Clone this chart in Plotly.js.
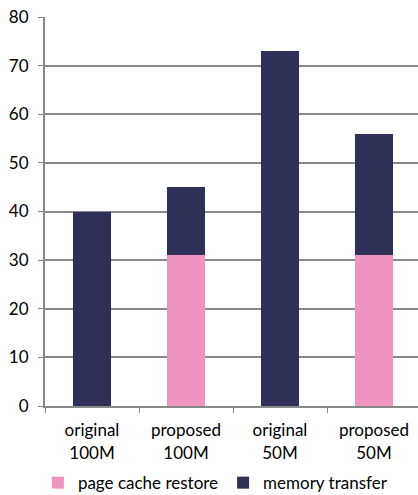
<!DOCTYPE html>
<html><head><meta charset="utf-8">
<script src="https://cdn.plot.ly/plotly-3.0.1.min.js"></script>
<style>html,body{margin:0;padding:0;overflow:hidden;background:#fff}#c{width:421px;height:495px}</style>
</head><body><div id="c"></div>
<script>
const categories = ["original<br>100M", "proposed<br>100M", "original<br>50M", "proposed<br>50M"];
const pageCacheRestore = [0, 31, 0, 31];
const memoryTransfer = [40, 14, 73, 25];
const seriesNames = ["page cache restore", "memory transfer"];
const yTicks = [0, 10, 20, 30, 40, 50, 60, 70, 80];

const traces = [
  {type: "bar", name: seriesNames[0], x: categories, y: pageCacheRestore,
   marker: {color: "#ef93bf", line: {width: 0}}},
  {type: "bar", name: seriesNames[1], x: categories, y: memoryTransfer,
   marker: {color: "#2e3057", line: {width: 0}}}
];
const layout = {
  width: 421, height: 495,
  margin: {l: 45, r: 0, t: 17, b: 89, autoexpand: false},
  barmode: "stack", bargap: 0.6,
  paper_bgcolor: "#fff", plot_bgcolor: "#fff",
  font: {family: "Lato, 'Open Sans', sans-serif", size: 17, color: "#000"},
  showlegend: true,
  legend: {orientation: "h", xref: "container", yref: "container", x: 0.09, xanchor: "left",
           y: 0.024, yanchor: "middle",
           font: {size: 17}, traceorder: "normal", itemwidth: 30, tracegroupgap: 0},
  xaxis: {tickson: "boundaries", ticks: "outside", ticklen: 5, tickcolor: "#888",
          showline: true, linecolor: "#888", linewidth: 2, showgrid: false,
          tickfont: {size: 17}, automargin: false, ticklabelstandoff: 8},
  yaxis: {range: [0, 80], tickvals: yTicks, ticks: "outside", ticklen: 5, tickcolor: "#888",
          showline: true, linecolor: "#888", linewidth: 2, gridcolor: "#888", gridwidth: 2,
          zeroline: false, tickfont: {size: 17}, automargin: false, ticklabelstandoff: 6}
};
Plotly.newPlot("c", traces, layout, {displayModeBar: false, staticPlot: true});
</script></body></html>
